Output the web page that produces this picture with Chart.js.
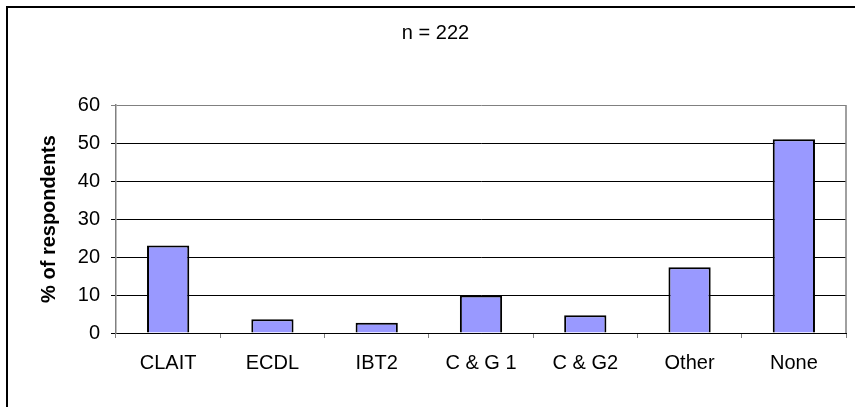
<!DOCTYPE html>
<html>
<head>
<meta charset="utf-8">
<title>n = 222</title>
<script src="https://cdn.jsdelivr.net/npm/chart.js@4.4.1/dist/chart.umd.min.js"></script>
<style>
  html, body { margin: 0; padding: 0; background: #ffffff; }
  #wrap { position: relative; width: 855px; height: 407px; overflow: hidden; }
  #frame {
    position: absolute; left: 6px; top: 6px; width: 900px; height: 450px;
    border-left: 2px solid #000; border-top: 2px solid #000; box-sizing: border-box;
  }
  #chart { position: absolute; left: 0; top: 0; }
</style>
</head>
<body>
<div id="wrap">
  <div id="frame"></div>
  <canvas id="chart" width="855" height="407"></canvas>
</div>
<script>
// Qualifications held by respondents (percentage of n = 222)
const categories = ["CLAIT", "ECDL", "IBT2", "C & G 1", "C & G2", "Other", "None"];
const percentRespondents = [23, 3.6, 2.7, 9.9, 4.7, 17.3, 51];
const yTicks = [0, 10, 20, 30, 40, 50, 60];
const chartTitle = "n = 222";
const yAxisTitle = "% of respondents";

const FONT = "'Liberation Sans', Arial, sans-serif";
const GREY = "#808080";

// Grey line along the right edge of the plot area
const plotFrame = {
  id: "plotFrame",
  beforeDatasetsDraw(chart) {
    const { ctx, chartArea } = chart;
    ctx.save();
    ctx.strokeStyle = GREY;
    ctx.lineWidth = 1.5;
    ctx.beginPath();
    ctx.moveTo(chartArea.right, chartArea.top);
    ctx.lineTo(chartArea.right, chartArea.bottom);
    ctx.stroke();
    ctx.restore();
  }
};

new Chart(document.getElementById("chart"), {
  type: "bar",
  data: {
    labels: categories,
    datasets: [{
      data: percentRespondents,
      backgroundColor: "#9999FF",
      borderColor: "#000000",
      borderWidth: 2,
      barPercentage: 0.405,
      categoryPercentage: 1.0
    }]
  },
  options: {
    responsive: false,
    animation: false,
    devicePixelRatio: 1,
    layout: { padding: { left: 25, right: 9, top: 0, bottom: 0 } },
    plugins: {
      legend: { display: false },
      tooltip: { enabled: false },
      title: {
        display: true,
        text: chartTitle,
        color: "#000",
        font: { family: FONT, size: 20, weight: "normal", lineHeight: 1.2 },
        padding: { top: 21, bottom: 60 }
      }
    },
    scales: {
      x: {
        grid: {
          display: true,
          drawOnChartArea: false,
          drawTicks: true,
          tickLength: 5,
          color: GREY,
          offset: true
        },
        border: { display: true, color: "#000", width: 1 },
        ticks: {
          color: "#000",
          padding: 13,
          font: { family: FONT, size: 20 },
          maxRotation: 0,
          autoSkip: false
        },
        afterFit(scale) { scale.height = 74; }
      },
      y: {
        min: 0,
        max: 60,
        afterBuildTicks(scale) { scale.ticks = yTicks.map(v => ({ value: v })); },
        grid: {
          color: ctx => (ctx.tick && ctx.tick.value === 60 ? GREY : "#000"),
          lineWidth: 1,
          drawTicks: true,
          tickLength: 5
        },
        border: { display: true, color: GREY, width: 1.5 },
        ticks: {
          color: "#000",
          padding: 11,
          font: { family: FONT, size: 20 }
        },
        title: {
          display: true,
          text: yAxisTitle,
          color: "#000",
          font: { family: FONT, size: 20, weight: "bold", lineHeight: 1.2 },
          padding: { top: 12, bottom: 0 }
        },
        afterFit(scale) { scale.width = 91; }
      }
    }
  },
  plugins: [plotFrame]
});
</script>
</body>
</html>
